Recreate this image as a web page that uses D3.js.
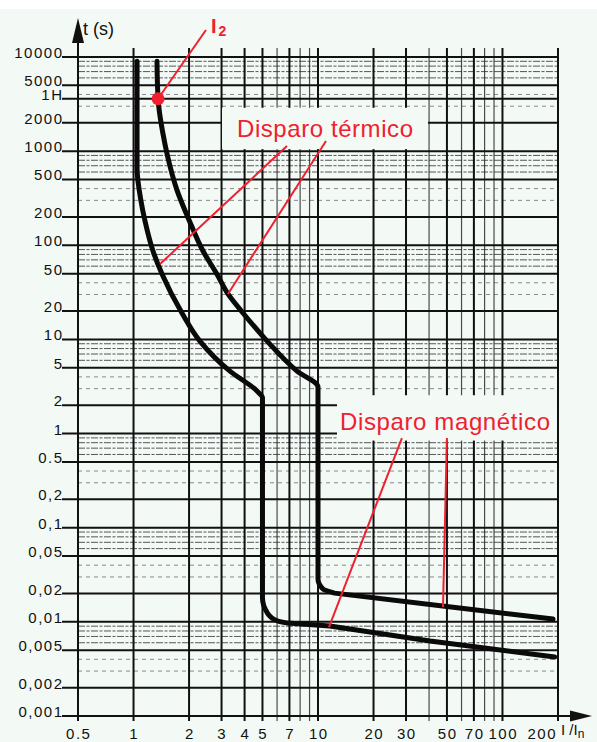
<!DOCTYPE html>
<html><head><meta charset="utf-8">
<script src="https://cdn.jsdelivr.net/npm/d3@7"></script>
<style>
html,body{margin:0;padding:0;background:#f3f9f5;}
svg{display:block;}
</style></head><body>
<svg id="chart" width="597" height="742"></svg>
<script>
// ---------- data ----------
const xTickValues = [0.5, 1, 2, 3, 4, 5, 7, 10, 20, 30, 50, 70, 100, 200];
const xTickLabels = ["0.5", "1", "2", "3", "4", "5", "7", "10", "20", "30", "50", "70", "100", "200"];
const xMinorValues = [6, 8, 9, 40, 60, 80, 90];

const yTickValues = [10000, 5000, 3600, 2000, 1000, 500, 200, 100, 50, 20, 10, 5, 2, 1, 0.5, 0.2, 0.1, 0.05, 0.02, 0.01, 0.005, 0.002, 0.001];
const yTickLabels = ["10000", "5000", "1H", "2000", "1000", "500", "200", "100", "50", "20", "10", "5", "2", "1", "0.5", "0,2", "0,1", "0,05", "0,02", "0,01", "0,005", "0,002", "0,001"];
const yMinorDense = [9000, 8000, 7000, 6000, 900, 800, 700, 600, 90, 80, 70, 60, 9, 8, 7, 6, 0.9, 0.8, 0.7, 0.6, 0.09, 0.08, 0.07, 0.06, 0.009, 0.008, 0.007, 0.006];
const yMinorSparse = [4000, 3000, 400, 300, 40, 30, 4, 3, 0.4, 0.3, 0.04, 0.03, 0.004, 0.003];

// lower (left) tripping curve: thermal part + corner (I/In, t s)
const innerI = [1.045, 1.045, 1.098, 1.154, 1.275, 1.427, 1.83, 2.29, 3.33, 4.67, 5, 5, 5.32, 6.04, 6.84];
const innerT = [9000, 662, 295, 181, 86.9, 49.5, 19.1, 9.6, 4.6, 2.83, 2.4, 0.0179, 0.0124, 0.0102, 0.0097];
// lower curve: magnetic tail
const innerTailI = [6.84, 11.6, 40.5, 192];
const innerTailT = [0.0097, 0.00904, 0.00625, 0.00423];
// upper (right) tripping curve
const outerI = [1.34, 1.358, 1.445, 1.52, 1.72, 1.999, 2.38, 2.83, 3.25, 3.92, 5.3, 7.7, 10, 10, 10.64, 12.3];
const outerT = [9000, 3600, 1520, 933, 386, 186, 86.9, 49.5, 30.4, 19.1, 9.6, 4.6, 3.12, 0.0285, 0.0223, 0.0202];
const outerTailI = [12.3, 47.4, 188];
const outerTailT = [0.0202, 0.0147, 0.0107];

// I2 point
const i2I = 1.358, i2T = 3600;
// annotation leader lines (I/In, t) from -> to
const thermalFromI = [6.79, 11.05], thermalFromT = [1135, 1282];
const thermalToI = [1.392, 3.25], thermalToT = [63.2, 30.4];
const magneticFromI = [28.5, 50.0], magneticFromT = [0.897, 0.897];
const magneticToI = [11.47, 47.6], magneticToT = [0.00881, 0.0144];
const i2FromI = 2.47, i2FromT = 19370;

// ---------- drawing ----------
const W = 597, H = 742;
const bg = "#f3f9f5";
const red = "#f0202f";
const svg = d3.select("#chart");

const x = d3.scaleLog().domain([0.5, 200]).range([78, 558]);
const y = d3.scaleLog().domain([0.001, 10000]).range([716, 57]);

svg.append("rect").attr("x", 0).attr("y", 0).attr("width", W).attr("height", H).attr("fill", bg);
svg.append("rect").attr("x", 0).attr("y", 0).attr("width", W).attr("height", 9).attr("fill", "#ffffff");

const grid = svg.append("g");
const gTop = y(10000) - 9, gBottom = y(0.001) + 5;
const xL = x(0.5), xR = x(200);

// minor horizontal lines
grid.selectAll("line.hd").data(yMinorDense).join("line")
  .attr("x1", xL).attr("x2", xR).attr("y1", d => y(d)).attr("y2", d => y(d))
  .attr("stroke", "#222").attr("stroke-width", 1).attr("stroke-dasharray", "7,1.5,3,1.5").attr("opacity", 0.75);
grid.selectAll("line.hs").data(yMinorSparse).join("line")
  .attr("x1", xL).attr("x2", xR).attr("y1", d => y(d)).attr("y2", d => y(d))
  .attr("stroke", "#444").attr("stroke-width", 1).attr("stroke-dasharray", "4,4").attr("opacity", 0.6);

// minor vertical lines
grid.selectAll("line.vm").data(xMinorValues).join("line")
  .attr("x1", d => x(d)).attr("x2", d => x(d)).attr("y1", gTop).attr("y2", gBottom)
  .attr("stroke", "#222").attr("stroke-width", 1.2).attr("opacity", 0.8);

// major vertical lines
grid.selectAll("line.vM").data(xTickValues).join("line")
  .attr("x1", d => x(d)).attr("x2", d => x(d)).attr("y1", gTop).attr("y2", gBottom)
  .attr("stroke", "#111").attr("stroke-width", 2);

// major horizontal lines (with tick stub)
grid.selectAll("line.hM").data(yTickValues).join("line")
  .attr("x1", 62).attr("x2", xR).attr("y1", d => y(d)).attr("y2", d => y(d))
  .attr("stroke", "#111").attr("stroke-width", 2);

// label background boxes (cover grid)
svg.append("rect").attr("x", 222).attr("y", y(3600) + 9)
  .attr("width", 428 - 222).attr("height", (y(1000) - 2) - (y(3600) + 9)).attr("fill", bg);
svg.append("rect").attr("x", 337).attr("y", y(2) - 10)
  .attr("width", xR - 1 - 337).attr("height", (y(1) + 7) - (y(2) - 10)).attr("fill", bg);

// y-axis arrow
svg.append("path")
  .attr("d", `M${xL - 6},${43} L${xL},${18} L${xL + 6},${43} Z`).attr("fill", "#111");
svg.append("line").attr("x1", xL).attr("x2", xL).attr("y1", 40).attr("y2", gTop).attr("stroke", "#111").attr("stroke-width", 2);
// x-axis arrow
svg.append("line").attr("x1", xR).attr("x2", 572).attr("y1", y(0.001)).attr("y2", y(0.001)).attr("stroke", "#111").attr("stroke-width", 2);
svg.append("path")
  .attr("d", `M${570},${y(0.001) - 5.5} L${592},${y(0.001)} L${570},${y(0.001) + 5.5} Z`).attr("fill", "#111");

// axis labels
const tickFont = "'Liberation Sans', Arial, Helvetica, sans-serif";
svg.append("g").selectAll("text").data(yTickValues).join("text")
  .attr("x", 63.5).attr("y", d => y(d) + 1)
  .attr("text-anchor", "end")
  .attr("font-family", tickFont).attr("font-size", 15).attr("letter-spacing", 1.5)
  .attr("fill", "#111")
  .text((d, i) => yTickLabels[i]);
svg.append("g").selectAll("text").data(xTickValues).join("text")
  .attr("x", (d, i) => i === xTickValues.length - 1 ? x(d) - 1 : x(d) + 0.75)
  .attr("y", 739)
  .attr("text-anchor", (d, i) => i === xTickValues.length - 1 ? "end" : "middle")
  .attr("font-family", tickFont).attr("font-size", 15).attr("letter-spacing", 1.5)
  .attr("fill", "#111")
  .text((d, i) => xTickLabels[i]);

svg.append("text").attr("x", 83).attr("y", 35)
  .attr("font-family", tickFont).attr("font-size", 18).attr("fill", "#111").text("t (s)");
const xl = svg.append("text").attr("x", 561).attr("y", 735)
  .attr("font-family", tickFont).attr("font-size", 15).attr("fill", "#111");
xl.append("tspan").text("I /I");
xl.append("tspan").attr("font-size", 12).attr("dy", 3).text("n");

// curves
const smooth = d3.line().x(d => x(d[0])).y(d => y(d[1])).curve(d3.curveMonotoneY);
const straight = d3.line().x(d => x(d[0])).y(d => y(d[1]));
function curvePath(hI, hT, tI, tT) {
  const head = hI.map((v, i) => [v, hT[i]]);
  const tail = tI.map((v, i) => [v, tT[i]]);
  return smooth(head) + "L" + straight(tail).slice(1);
}
[[innerI, innerT, innerTailI, innerTailT], [outerI, outerT, outerTailI, outerTailT]].forEach(c => {
  svg.append("path").attr("d", curvePath(...c)).attr("fill", "none")
    .attr("stroke", "#0a0a0a").attr("stroke-width", 5).attr("stroke-linecap", "round").attr("stroke-linejoin", "round");
});

// annotations
const ann = svg.append("g").attr("stroke", red).attr("stroke-width", 2);
thermalFromI.forEach((v, i) => {
  ann.append("line").attr("x1", x(v)).attr("y1", y(thermalFromT[i]))
    .attr("x2", x(thermalToI[i])).attr("y2", y(thermalToT[i]));
});
magneticFromI.forEach((v, i) => {
  ann.append("line").attr("x1", x(v)).attr("y1", y(magneticFromT[i]))
    .attr("x2", x(magneticToI[i])).attr("y2", y(magneticToT[i]));
});
ann.append("line").attr("x1", x(i2FromI)).attr("y1", y(i2FromT)).attr("x2", x(i2I)).attr("y2", y(i2T));
svg.append("circle").attr("cx", x(i2I)).attr("cy", y(i2T)).attr("r", 6.5).attr("fill", red);

const redFont = "'Liberation Sans', Arial, Helvetica, sans-serif";
svg.append("text").attr("x", 237).attr("y", 137)
  .attr("font-family", redFont).attr("font-size", 24).attr("fill", red)
  .attr("textLength", 176).attr("lengthAdjust", "spacing")
  .text("Disparo térmico");
svg.append("text").attr("x", 340).attr("y", 430)
  .attr("font-family", redFont).attr("font-size", 24).attr("fill", red)
  .attr("textLength", 210).attr("lengthAdjust", "spacing")
  .text("Disparo magnético");
const i2t = svg.append("text").attr("x", 211).attr("y", 33)
  .attr("font-family", redFont).attr("font-size", 20).attr("font-weight", "bold").attr("fill", red);
i2t.append("tspan").text("I");
i2t.append("tspan").attr("font-size", 14).attr("dy", 3).attr("dx", 2).text("2");
</script>
</body></html>
